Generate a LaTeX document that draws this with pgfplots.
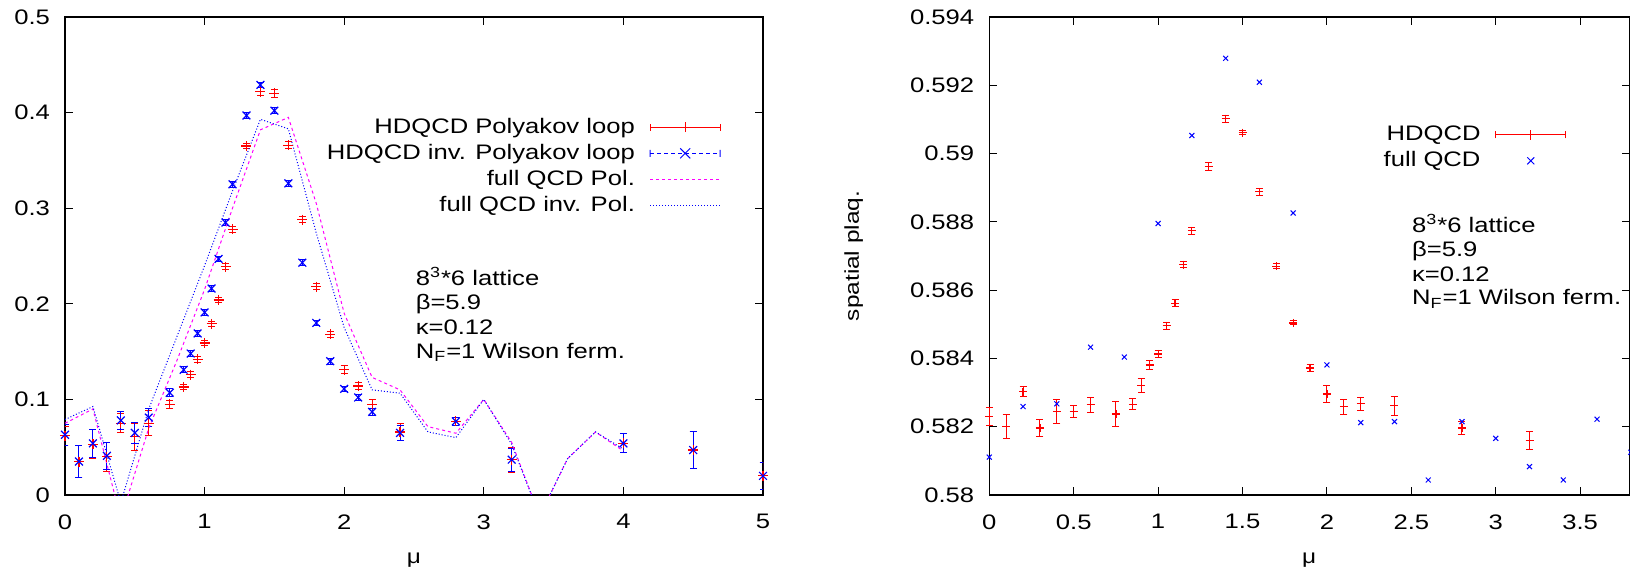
\documentclass[border=0pt]{standalone}
\usepackage{fontspec}
\setmainfont{Liberation Sans}[FakeStretch=1.22]
\usepackage{pgfplots}
\pgfplotsset{compat=1.18}
\usepackage{pgfplotstable}
\newcommand{\fsz}{\fontsize{10.5}{12.6}\selectfont}
\definecolor{gpred}{RGB}{255,0,0}
\definecolor{gpblue}{RGB}{0,0,255}
\definecolor{gpmag}{RGB}{255,0,255}

\pgfplotstableread{
x     r     re    b     be
0     0.062 0.010 0.063 0.011
0.1   0.035 0.017 0.035 0.017
0.2   0.053 0.015 0.054 0.015
0.3   0.040 0.015 0.041 0.014
0.4   0.075 0.010 0.078 0.009
0.5   0.061 0.014 0.065 0.011
0.6   0.075 0.013 0.081 0.009
0.75  0.095 0.004 0.107 0.004
0.85  0.113 0.003 0.131 0.003
0.9   0.126 0.003 0.148 0.003
0.95  0.142 0.003 0.169 0.003
1.0   0.159 0.003 0.191 0.003
1.05  0.179 0.003 0.216 0.003
1.1   0.204 0.003 0.247 0.003
1.15  0.239 0.003 0.285 0.003
1.2   0.278 0.003 0.325 0.003
1.3   0.365 0.003 0.397 0.003
1.4   0.422 0.004 0.429 0.003
1.5   0.420 0.004 0.402 0.003
1.6   0.366 0.004 0.326 0.003
1.7   0.288 0.003 0.243 0.003
1.8   0.218 0.003 0.180 0.003
1.9   0.168 0.003 0.140 0.003
2.0   0.131 0.004 0.111 0.003
2.1   0.114 0.004 0.102 0.003
2.2   0.095 0.005 0.087 0.004
2.4   0.066 0.009 0.065 0.008
2.8   0.077 0.004 0.077 0.004
3.2   0.037 0.013 0.037 0.012
4.0   0.054 0.010 0.054 0.010
4.5   0.047 0.019 0.047 0.019
5.0   0.020 0.014 0.020 0.014
}\hdpol

\pgfplotstableread{
x    pol     inv
0    0.075   0.079
0.2  0.090   0.0925
0.4  -0.025  -0.008
0.6  0.070   0.090
0.8  0.140   0.165
1.0  0.215   0.240
1.2  0.300   0.318
1.4  0.382   0.393
1.6  0.395   0.383
1.8  0.305   0.274
2.0  0.190   0.175
2.2  0.123   0.110
2.4  0.110   0.1065
2.6  0.0715  0.066
2.8  0.0646  0.060
3.0  0.100   0.100
3.2  0.055   0.053
3.4  -0.022  -0.022
3.6  0.038   0.038
3.8  0.066   0.066
4.0  0.046   0.048
}\fullpol

\pgfplotstableread{
x     y        e
0     0.58230  0.00025
0.1   0.58200  0.00035
0.2   0.58303  0.00015
0.3   0.58196  0.00025
0.4   0.58244  0.00035
0.5   0.58244  0.00017
0.6   0.58264  0.00023
0.75  0.58237  0.00036
0.85  0.58266  0.00016
0.9   0.58320  0.00020
0.95  0.58381  0.00014
1.0   0.58413  0.00010
1.05  0.58496  0.00010
1.1   0.58562  0.00010
1.15  0.58675  0.00010
1.2   0.58774  0.00010
1.3   0.58963  0.00012
1.4   0.59102  0.00010
1.5   0.59061  0.00006
1.6   0.58888  0.00010
1.7   0.58670  0.00007
1.8   0.58504  0.00006
1.9   0.58372  0.00010
2.0   0.58296  0.00025
2.1   0.58259  0.00022
2.2   0.58267  0.00019
2.4   0.58261  0.00028
2.8   0.58196  0.00018
3.2   0.58159  0.00026
}\hdplaq

\pgfplotstableread{
x    y
0    0.58111
0.2  0.58259
0.4  0.58267
0.6  0.58433
0.8  0.58404
1.0  0.58795
1.2  0.59053
1.4  0.59279
1.6  0.59209
1.8  0.58826
2.0  0.58381
2.2  0.58212
2.4  0.58215
2.6  0.58044
2.8  0.58215
3.0  0.58166
3.2  0.58083
3.4  0.58044
3.6  0.58222
3.8  0.58125
}\fullplaq

\pgfplotsset{
 gp/.style={
  scale only axis, tick align=inside, major tick length=3.8pt,
  tick style={black, line width=0.5pt}, axis line style={line width=0.6pt},
  /pgf/number format/assume math mode=true,
  tick label style={font=\fsz},
  label style={font=\fsz},
  xticklabel style={yshift=-6.2pt},
  yticklabel style={xshift=-4pt},
  legend style={font=\fsz, draw=none, fill=none, inner sep=0pt,
    /tikz/every odd column/.append style={column sep=5.4pt}},
  legend plot pos=right, legend cell align=right,
 },
 legRed/.style={legend image code/.code={
   \draw[gpred, line width=0.5pt] (0pt,0pt) -- (35pt,0pt) (0pt,-1.75pt)--(0pt,1.75pt) (35pt,-1.75pt)--(35pt,1.75pt) (17.5pt,-2.5pt)--(17.5pt,2.5pt);}},
 legBlue/.style={legend image code/.code={
   \draw[gpblue, line width=0.5pt, dash pattern=on 2pt off 1.5pt] (0pt,0pt) -- (35pt,0pt);
   \draw[gpblue, line width=0.5pt] (0pt,-1.75pt)--(0pt,1.75pt) (35pt,-1.75pt)--(35pt,1.75pt) (15pt,-2.5pt)--(20pt,2.5pt) (15pt,2.5pt)--(20pt,-2.5pt);}},
 legMag/.style={legend image code/.code={
   \draw[gpmag, line width=0.5pt, dash pattern=on 1.5pt off 1.5pt] (0pt,0pt) -- (35pt,0pt);}},
 legDot/.style={legend image code/.code={
   \draw[gpblue, line width=0.5pt, dash pattern=on 0.5pt off 1pt] (0pt,0pt) -- (35pt,0pt);}},
 legX/.style={legend image code/.code={
   \path[draw=none] (0pt,0pt) -- (35pt,0pt);
   \draw[gpblue, line width=0.5pt, solid] (15.75pt,-1.75pt)--(19.25pt,1.75pt) (15.75pt,1.75pt)--(19.25pt,-1.75pt);}},
}

\begin{document}
\begin{tikzpicture}
\path[use as bounding box] (0,0) rectangle (815pt,287.5pt);

\begin{axis}[gp, at={(32.5pt,40pt)}, anchor=south west,
  width=349pt, height=239pt,
  xmin=0, xmax=5, ymin=0, ymax=0.5,
  xtick={0,1,2,3,4,5}, ytick={0,0.1,0.2,0.3,0.4,0.5},
  xlabel={μ},
  every axis x label/.style={at={(axis description cs:0.5,-0.136)}, anchor=center},
  legend style={at={(rel axis cs:0.94,0.798)}, anchor=north east},
]
\addplot[gpred, only marks, mark=+, mark size=2.5pt, mark options={line width=0.6pt}, legRed,
  error bars/.cd, y dir=both, y explicit,
  error bar style={line width=0.5pt, gpred},
  error mark options={rotate=90, gpred, mark size=1.75pt, line width=0.5pt}]
  table[x=x, y=r, y error=re] {\hdpol};
\addlegendentry{HDQCD Polyakov loop}
\addplot[gpblue, only marks, mark=x, mark size=2.75pt, mark options={line width=0.6pt}, legBlue,
  error bars/.cd, y dir=both, y explicit,
  error bar style={line width=0.5pt, gpblue},
  error mark options={rotate=90, gpblue, mark size=1.75pt, line width=0.5pt}]
  table[x=x, y=b, y error=be] {\hdpol};
\addlegendentry{HDQCD inv. Polyakov loop}
\addplot[gpmag, no markers, line width=0.5pt, dash pattern=on 1.5pt off 1.5pt, legMag]
  table[x=x, y=pol] {\fullpol};
\addlegendentry{full QCD Pol.}
\addplot[gpblue, no markers, line width=0.5pt, dash pattern=on 0.5pt off 1pt, legDot]
  table[x=x, y=inv] {\fullpol};
\addlegendentry{full QCD inv. Pol.}
\node[anchor=base west, inner sep=0pt, font=\fsz] at (axis cs:2.51,0.2188) {8\textsuperscript{3}*6 lattice};
\node[anchor=base west, inner sep=0pt, font=\fsz] at (axis cs:2.51,0.1942) {β=5.9};
\node[anchor=base west, inner sep=0pt, font=\fsz] at (axis cs:2.51,0.1675) {κ=0.12};
\node[anchor=base west, inner sep=0pt, font=\fsz] at (axis cs:2.51,0.1431) {N\textsubscript{F}=1 Wilson ferm.};
\end{axis}

\begin{axis}[gp, at={(494.65pt,40pt)}, anchor=south west,
  width=319.9pt, height=239pt, clip=false,
  xmin=0, xmax=3.79, ymin=0.58, ymax=0.594,
  xtick={0,0.5,1,1.5,2,2.5,3,3.5},
  ytick={0.58,0.582,0.584,0.586,0.588,0.59,0.592,0.594},
  scaled y ticks=false,
  yticklabel style={/pgf/number format/.cd, fixed, precision=3},
  xlabel={μ}, ylabel={spatial plaq.},
  every axis x label/.style={at={(axis description cs:0.5,-0.136)}, anchor=center},
  every axis y label/.style={at={(axis description cs:-0.212,0.5)}, rotate=90, anchor=center},
  legend style={at={(rel axis cs:0.9025,0.781)}, anchor=north east},
]
\addplot[gpred, only marks, mark=+, mark size=2pt, mark options={line width=0.6pt}, legRed,
  error bars/.cd, y dir=both, y explicit,
  error bar style={line width=0.5pt, gpred},
  error mark options={rotate=90, gpred, mark size=1.75pt, line width=0.5pt}]
  table[x=x, y=y, y error=e] {\hdplaq};
\addlegendentry{HDQCD}
\addplot[gpblue, only marks, mark=x, mark size=1.75pt, mark options={line width=0.5pt}, legX]
  table[x=x, y=y] {\fullplaq};
\addlegendentry{full QCD}
\node[anchor=base west, inner sep=0pt, font=\fsz] at (axis cs:2.502,0.58768) {8\textsuperscript{3}*6 lattice};
\node[anchor=base west, inner sep=0pt, font=\fsz] at (axis cs:2.502,0.58698) {β=5.9};
\node[anchor=base west, inner sep=0pt, font=\fsz] at (axis cs:2.502,0.58625) {κ=0.12};
\node[anchor=base west, inner sep=0pt, font=\fsz] at (axis cs:2.502,0.58557) {N\textsubscript{F}=1 Wilson ferm.};
\end{axis}
\end{tikzpicture}
\end{document}
